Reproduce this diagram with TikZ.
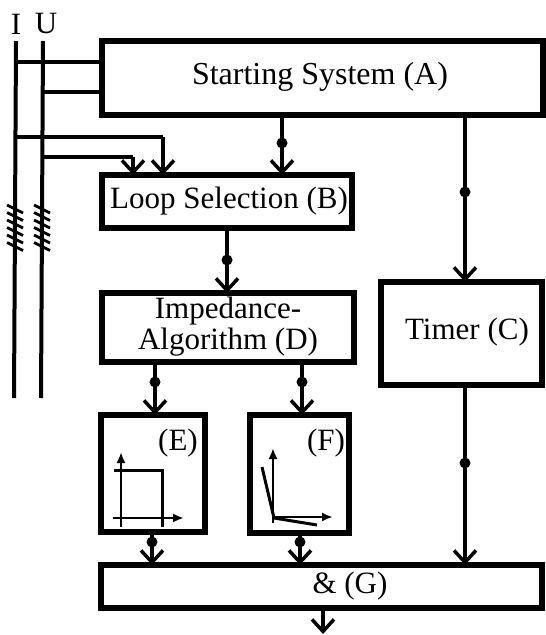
\documentclass[tikz,border=0pt]{standalone}
\usepackage{fontspec}
\setmainfont{Liberation Serif}
\usetikzlibrary{arrows.meta}
\begin{document}
\begin{tikzpicture}[x=1pt,y=-1pt,
  box/.style={draw, line width=5.5pt, rectangle, inner sep=0pt, outer sep=0pt},
  txt/.style={font=\fontsize{31}{32}\selectfont, inner sep=0pt},
  conn/.style={line width=3.5pt},
  arr/.style={line width=3.5pt, -{Straight Barb[length=12pt,width=22pt]}},
  dot/.style={circle, fill, inner sep=0pt, minimum size=11pt},
  rail/.style={line width=4pt},
  hatchline/.style={line width=2.8pt},
  axis/.style={line width=2.6pt, -{Latex[length=11pt,width=9pt]}},
  curve/.style={line width=3pt}]
\useasboundingbox (0,0) rectangle (546,635);

% boxes
\node[box, minimum width=441pt, minimum height=74pt] (A) at (322.5,78) {};
\node[txt, font=\fontsize{32}{33}\selectfont] (At) at (320,77) {Starting System (A)};
\node[box, minimum width=250pt, minimum height=53pt] (B) at (227,201.5) {};
\node[txt] (Bt) at (229,201) {Loop Selection (B)};
\node[box, minimum width=252pt, minimum height=69pt] (D) at (228,327.5) {};
\node[txt, align=center, font=\fontsize{31}{31}\selectfont] (Dt) at (228,327) {Impedance-\\Algorithm (D)};
\node[box, minimum width=161pt, minimum height=103pt] (C) at (461.5,333.5) {};
\node[txt] (Ct) at (467,332) {Timer (C)};
\node[box, minimum width=104pt, minimum height=117pt] (E) at (153,473.5) {};
\node[txt] (Et) at (178,443) {(E)};
\node[box, minimum width=99pt, minimum height=118pt] (F) at (299.5,474) {};
\node[txt] (Ft) at (326,443) {(F)};
\node[box, minimum width=441pt, minimum height=43pt] (G) at (321.5,586.5) {};
\node[txt] (Gt) at (350,586) {\& (G)};

% rails I and U
\node[txt] (Il) at (16,24) {I};
\node[txt] (Ul) at (46,24) {U};
\coordinate (Itop) at (16,41);
\coordinate (Ibot) at (14,398);
\coordinate (Utop) at (43,41);
\coordinate (Ubot) at (41,398);
\draw[rail] (Itop) -- (Ibot);
\draw[rail] (Utop) -- (Ubot);
\foreach \k in {0,...,5} {
  \draw[hatchline] (7,209+\k*7.5-4) -- (23,209+\k*7.5+4);
  \draw[hatchline] (34,209+\k*7.5-4) -- (50,209+\k*7.5+4);
}

% taps to A
\coordinate (I1) at (16,62);
\coordinate (U1) at (43,92);
\draw[conn] (I1) -- (I1 -| A.west);
\draw[conn] (U1) -- (U1 -| A.west);
% taps to B
\coordinate (I2) at (15,137);
\coordinate (I2c) at (163,137);
\coordinate (U2) at (42,157);
\coordinate (U2c) at (133,157);
\draw[conn] (I2) -- (I2c);
\draw[arr] (I2c) -- (I2c |- B.north);
\draw[conn] (U2) -- (U2c);
\draw[arr] (U2c) -- (U2c |- B.north);

% dots
\node[dot] (d1) at (282,143) {};
\node[dot] (d2) at (465,192) {};
\node[dot] (d3) at (227,260) {};
\node[dot] (d4) at (155,382) {};
\node[dot] (d5) at (302,382) {};
\node[dot] (d6) at (152,542) {};
\node[dot] (d7) at (300,542) {};
\node[dot] (d8) at (465,463) {};

% connectors
\draw[conn] (A.south -| d1) -- (d1.center);
\draw[arr] (d1.center) -- (B.north -| d1);
\draw[conn] (A.south -| d2) -- (d2.center);
\draw[arr] (d2.center) -- (C.north -| d2);
\draw[conn] (B.south -| d3) -- (d3.center);
\draw[arr] (d3.center) -- (D.north -| d3);
\draw[conn] (D.south -| d4) -- (d4.center);
\draw[arr] (d4.center) -- (E.north -| d4);
\draw[conn] (D.south -| d5) -- (d5.center);
\draw[arr] (d5.center) -- (F.north -| d5);
\draw[conn] (E.south -| d6) -- (d6.center);
\draw[arr] (d6.center) -- (G.north -| d6);
\draw[conn] (F.south -| d7) -- (d7.center);
\draw[arr] (d7.center) -- (G.north -| d7);
\draw[conn] (C.south -| d8) -- (d8.center);
\draw[arr] (d8.center) -- (G.north -| d8);
\coordinate (out) at (323,634);
\draw[arr] (G.south -| out) -- (out);

% E characteristic
\draw[axis] (121,527) -- (121,452);
\draw[axis] (113,518) -- (184,518);
\draw[curve] (114,470) -- (162,470) -- (162,527);
% F characteristic
\draw[axis] (273,523) -- (273,448);
\draw[axis] (273,517) -- (333,517);
\draw[curve] (262,467) -- (274,518) -- (317,525);
\end{tikzpicture}
\end{document}
